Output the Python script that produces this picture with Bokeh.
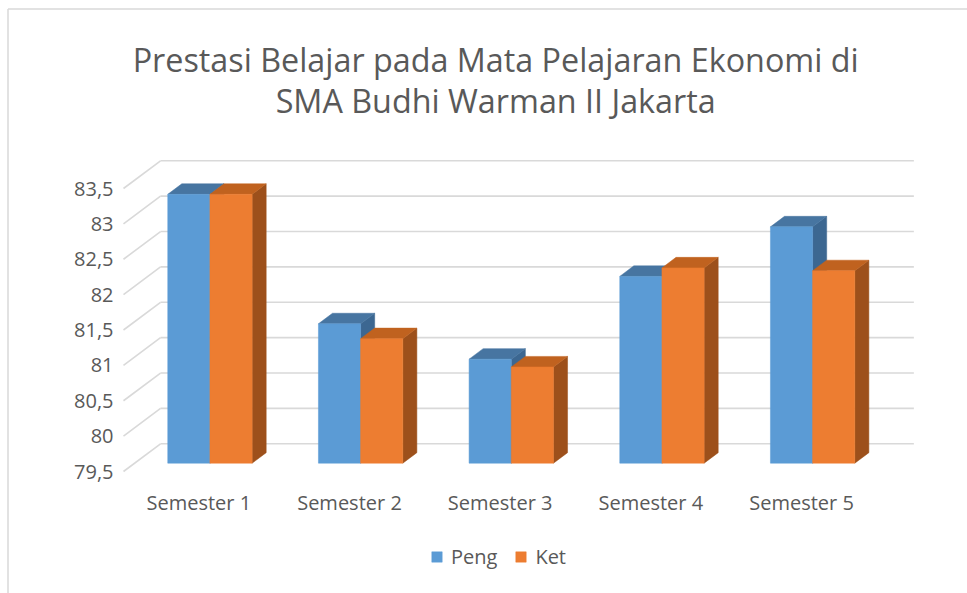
from bokeh.plotting import figure
from bokeh.models import FixedTicker, Legend, LegendItem, Range1d
from bokeh.core.properties import value
from bokeh.embed import file_html
from bokeh.resources import INLINE

# ---------------- data ----------------
categories = ["Semester 1", "Semester 2", "Semester 3", "Semester 4", "Semester 5"]
peng = [83.30, 81.47, 80.97, 82.14, 82.84]
ket = [83.30, 81.26, 80.86, 82.26, 82.22]
series_names = ["Peng", "Ket"]
y_ticks = [79.5, 80, 80.5, 81, 81.5, 82, 82.5, 83, 83.5]
y_tick_labels = ["79,5", "80", "80,5", "81", "81,5", "82", "82,5", "83", "83,5"]
title_lines = ["Prestasi Belajar pada Mata Pelajaran Ekonomi di",
               "SMA Budhi Warman II Jakarta"]

# ---------------- style ----------------
FONT = "Open Sans"
TEXT = "#595959"
GRID = "#d9d9d9"
front_colors = ["#5B9BD5", "#ED7D31"]
top_colors = ["#4775A1", "#C0621F"]
side_colors = ["#3C6791", "#9D501B"]

BASE = y_ticks[0]
DX, DY = 0.2457, 0.392      # depth of the 3-D box in data units
BAR_W = 0.28
F0, F1 = 0.30, 0.68         # front / back of the bars as depth fraction
D = F1 - F0

n = len(categories)
xs = list(range(1, n + 1))

# the frame fills the whole canvas; the axes sit at fixed data locations
W, H = 967, 593
PX_X, PX_Y = 150.67, 70.75          # pixels per data unit
X_START = 0.5 - 123 / PX_X
Y_START = BASE - (H - 471) / PX_Y
p = figure(frame_width=W, frame_height=H, output_backend="svg", toolbar_location=None,
           x_range=Range1d(X_START, X_START + W / PX_X),
           y_range=Range1d(Y_START, Y_START + H / PX_Y),
           min_border=0)
p.outline_line_color = None
p.background_fill_color = "white"
p.border_fill_color = "white"
p.xgrid.visible = False
p.ygrid.visible = False

# ---------------- chart-area border ----------------
bx = X_START + 7.5 / PX_X
by = Y_START + (H - 8.5) / PX_Y
p.segment(x0=[bx, bx], y0=[Y_START, by], x1=[bx, X_START + W / PX_X], y1=[by, by],
          line_color=GRID, line_width=1.5)

# ---------------- walls ----------------
x0, x1 = xs[0] - 0.5, xs[-1] + 0.5
p.segment(x0=[x0 + DX] * len(y_ticks), y0=[v + DY for v in y_ticks],
          x1=[x1 + DX] * len(y_ticks), y1=[v + DY for v in y_ticks],
          line_color=GRID, line_width=1.6)
p.segment(x0=[x0] * len(y_ticks), y0=y_ticks,
          x1=[x0 + DX] * len(y_ticks), y1=[v + DY for v in y_ticks],
          line_color=GRID, line_width=1.6)

# ---------------- bars ----------------
fronts = []
for s, vals in enumerate([peng, ket]):
    off = -BAR_W if s == 0 else 0.0
    left = [x + off + F0 * DX for x in xs]
    right = [l + BAR_W for l in left]
    bottom = [BASE + F0 * DY] * n
    top = [v + F0 * DY for v in vals]
    side_x = [[r, r + D * DX, r + D * DX, r] for r in right]
    side_y = [[b, b + D * DY, t + D * DY, t] for b, t in zip(bottom, top)]
    top_x = [[l, r, r + D * DX, l + D * DX] for l, r in zip(left, right)]
    top_y = [[t, t, t + D * DY, t + D * DY] for t in top]
    p.patches(side_x, side_y, fill_color=side_colors[s], line_color=side_colors[s],
              line_width=0.5)
    p.patches(top_x, top_y, fill_color=top_colors[s], line_color=top_colors[s],
              line_width=0.5)
    fr = p.quad(left=left, right=right, bottom=bottom, top=top,
                fill_color=front_colors[s], line_color=front_colors[s], line_width=0.5)
    fronts.append(fr)

# ---------------- title ----------------
title_x = (xs[0] + xs[-1]) / 2 - 0.03
p.text(x=[title_x, title_x], y=[85.337, 84.744], text=title_lines,
       text_font=value(FONT), text_font_size="32.3px", text_color=TEXT,
       text_align="center", text_baseline="middle")

# ---------------- axes ----------------
p.yaxis.ticker = FixedTicker(ticks=y_ticks)
p.yaxis.major_label_overrides = {v: l for v, l in zip(y_ticks, y_tick_labels)}
p.yaxis.fixed_location = x0
p.xaxis.ticker = FixedTicker(ticks=xs)
p.xaxis.major_label_overrides = {x: c for x, c in zip(xs, categories)}
p.xaxis.fixed_location = BASE
for ax in (p.xaxis[0], p.yaxis[0]):
    ax.axis_line_color = None
    ax.major_tick_line_color = None
    ax.minor_tick_line_color = None
    ax.major_label_text_font = FONT
    ax.major_label_text_font_size = "20px"
    ax.major_label_text_color = TEXT
p.yaxis.major_label_standoff = 4
p.xaxis.major_label_standoff = 11

# ---------------- legend ----------------
legend = Legend(items=[LegendItem(label=series_names[i], renderers=[fronts[i]])
                       for i in range(2)],
                orientation="horizontal", location=(430, 23),
                glyph_width=13, glyph_height=13, label_standoff=8, spacing=17,
                label_height=20, label_text_font=FONT, label_text_font_size="20px",
                label_text_color=TEXT, border_line_color=None,
                background_fill_alpha=0, margin=0, padding=0)
p.add_layout(legend, "center")

open("out.html", "w").write(file_html(p, INLINE))
